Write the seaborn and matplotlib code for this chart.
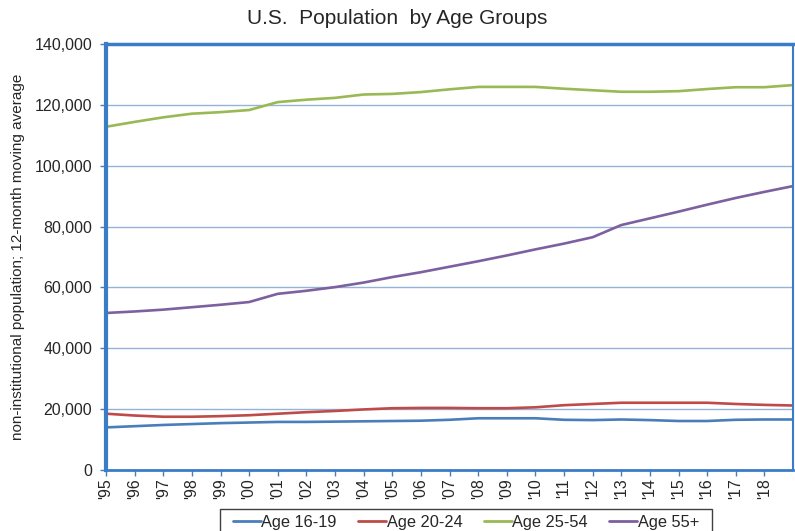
import numpy as np
import pandas as pd
import matplotlib
matplotlib.use("Agg")
import matplotlib.pyplot as plt
from matplotlib.patches import Rectangle
import seaborn as sns

years = list(range(1995, 2020))
age_16_19 = [14.0, 14.4, 14.8, 15.1, 15.4, 15.6, 15.8, 15.8, 15.9, 16.0, 16.1, 16.2, 16.5,
             17.0, 17.0, 17.0, 16.5, 16.4, 16.6, 16.4, 16.1, 16.1, 16.5, 16.6, 16.6]
age_20_24 = [18.5, 17.9, 17.5, 17.5, 17.7, 18.0, 18.5, 19.0, 19.4, 19.9, 20.3, 20.4, 20.4,
             20.3, 20.3, 20.6, 21.3, 21.7, 22.1, 22.1, 22.1, 22.1, 21.7, 21.4, 21.2]
age_25_54 = [112.8, 114.4, 115.9, 117.1, 117.6, 118.3, 120.9, 121.7, 122.3, 123.4, 123.6, 124.2, 125.1,
             125.9, 125.9, 125.9, 125.3, 124.8, 124.3, 124.3, 124.5, 125.2, 125.8, 125.8, 126.5]
age_55p = [51.6, 52.1, 52.7, 53.5, 54.3, 55.2, 57.9, 58.9, 60.1, 61.6, 63.4, 65.0, 66.8,
           68.6, 70.5, 72.5, 74.4, 76.5, 80.5, 82.7, 84.9, 87.2, 89.4, 91.4, 93.3]
series_names = ["Age 16-19", "Age 20-24", "Age 25-54", "Age 55+"]
tick_years = list(range(1995, 2019))
tick_labels = ["'%02d" % (y % 100) for y in tick_years]
colors = ["#4a7ebb", "#be4b48", "#98b954", "#7d60a0"]

frames = []
for name, vals in zip(series_names, [age_16_19, age_20_24, age_25_54, age_55p]):
    frames.append(pd.DataFrame({"year": years, "value": np.array(vals) * 1000, "group": name}))
df = pd.concat(frames, ignore_index=True)

sns.set_style("white")
plt.rcParams['font.family'] = ['Liberation Sans', 'DejaVu Sans']

fig = plt.figure(figsize=(7.95, 5.31), dpi=100)
ax = fig.add_axes([106/795, 1 - 470/531, (793 - 106)/795, (470 - 44)/531])

sns.lineplot(data=df, x="year", y="value", hue="group", palette=colors,
             linewidth=1.9, ax=ax, legend=False)

ax.set_xlim(1995, 2019)
ax.set_ylim(0, 140000)
ax.set_yticks(range(0, 140001, 20000))
ax.set_yticklabels([f"{v:,}" for v in range(0, 140001, 20000)], fontsize=11.5)
ax.set_xticks(tick_years)
ax.set_xticklabels(tick_labels, rotation=90, fontsize=11.5, va="top")
ax.yaxis.grid(True, color="#95b3d7", linewidth=1.0)
ax.set_axisbelow(True)
ax.set_xlabel("")
ax.set_ylabel("non-institutional population; 12-month moving average", fontsize=11)
ax.yaxis.set_label_coords(-0.118, 0.5)
ax.tick_params(axis="both", which="both", direction="out", length=4, width=1,
               color="#4a7ebb", pad=2, left=True, bottom=True)
ax.tick_params(axis="y", pad=6)

for side, w in [("left", 3.0), ("top", 2.5), ("right", 1.5), ("bottom", 2.0)]:
    ax.spines[side].set_visible(True)
    ax.spines[side].set_color("#3a7cc6")
    ax.spines[side].set_linewidth(w)

fig.text(0.5, 1 - 18/531, "U.S.  Population  by Age Groups", ha="center", va="center", fontsize=15)

handles = [plt.Line2D([0], [0], color=c, linewidth=2.0) for c in colors]
leg = fig.legend(handles, series_names, loc="center", bbox_to_anchor=(466/795, 1 - 522/531),
                 ncol=4, fontsize=11.8, frameon=False, handlelength=1.7,
                 handletextpad=0.05, columnspacing=1.3, borderpad=0.0)
fig.patches.append(Rectangle((220/795, -0.02), 492/795, 0.02 + (531 - 509)/531,
                             transform=fig.transFigure, facecolor="none",
                             edgecolor="#404040", linewidth=1.0, clip_on=False))

fig.savefig("out.png", dpi=100)
